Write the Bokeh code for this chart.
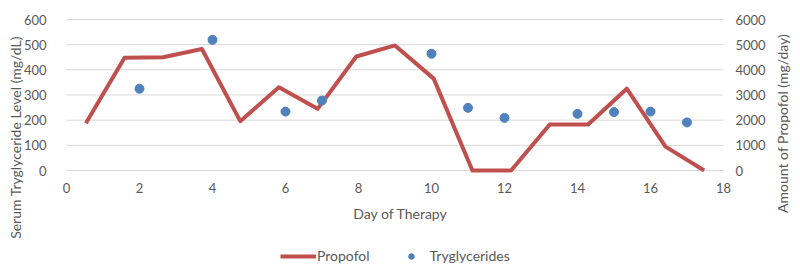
import math
from bokeh.plotting import figure
from bokeh.models import (Range1d, LinearAxis, FixedTicker, Legend, LegendItem, Label)
from bokeh.embed import file_html
from bokeh.resources import INLINE

# ---- data ----
propofol_day = [0.53, 1.59, 2.65, 3.71, 4.76, 5.82, 6.88, 7.94, 9.0,
                10.06, 11.12, 12.18, 13.24, 14.29, 15.35, 16.41, 17.47]
propofol_mg_day = [1880, 4480, 4500, 4830, 1960, 3310, 2450, 4530, 4970,
                   3650, 0, 0, 1830, 1830, 3250, 950, 0]
trig_day = [2, 4, 6, 7, 10, 11, 12, 14, 15, 16, 17]
trig_mg_dl = [325, 519, 234, 278, 464, 249, 209, 225, 232, 234, 191]
x_ticks = [0, 2, 4, 6, 8, 10, 12, 14, 16, 18]
left_ticks = [0, 100, 200, 300, 400, 500, 600]
right_ticks = [0, 1000, 2000, 3000, 4000, 5000, 6000]

TEXT = "#595959"
GRID = "#d9d9d9"
FONT = "Lato"
RED = "#c0504d"
BLUE = "#4f81bd"

# layout: the chart's plot area (x 0..18, y 0..600) spans px 66..723 and 19..170;
# the frame covers the whole canvas so that titles and legend can live in it
W, H = 800, 268
PL, PR, PT, PB = 66, 723, 19, 170
sx = (x_ticks[-1] - x_ticks[0]) / (PR - PL)
sy = (left_ticks[-1] - left_ticks[0]) / (PB - PT)
x_lo, x_hi = x_ticks[0] - PL * sx, x_ticks[-1] + (W - PR) * sx
y_lo, y_hi = -(H - PB) * sy, left_ticks[-1] + PT * sy

p = figure(width=W, height=H, output_backend="svg", toolbar_location=None,
           x_range=Range1d(x_lo, x_hi), y_range=Range1d(y_lo, y_hi),
           min_border=0, min_border_left=0, min_border_right=0,
           min_border_top=0, min_border_bottom=0)
p.outline_line_color = None
p.background_fill_color = "white"
p.border_fill_color = "white"
p.extra_y_ranges = {"prop": Range1d(y_lo * 10, y_hi * 10)}

def style_axis(ax, ticks):
    ax.ticker = FixedTicker(ticks=ticks)
    ax.axis_line_color = None
    ax.major_tick_line_color = None
    ax.minor_tick_line_color = None
    ax.major_label_text_color = TEXT
    ax.major_label_text_font = FONT
    ax.major_label_text_font_size = "13px"
    ax.axis_label_text_font = FONT
    ax.axis_label_text_font_size = "14px"
    ax.axis_label_text_font_style = "normal"
    ax.axis_label_text_color = TEXT

xax = p.xaxis[0]
style_axis(xax, x_ticks)
xax.fixed_location = 0
xax.major_label_standoff = 6
xax.axis_label = "Day of Therapy"
xax.axis_label_standoff = 9

yax = p.yaxis[0]
style_axis(yax, left_ticks)
yax.fixed_location = x_ticks[0]
yax.major_label_standoff = 14

right = LinearAxis(y_range_name="prop", fixed_location=x_ticks[-1])
style_axis(right, right_ticks)
right.major_label_standoff = 6
right.major_label_text_align = "left"
p.add_layout(right, "right")

p.xgrid.grid_line_color = None
p.ygrid.grid_line_color = None

# horizontal gridlines across the plot area only
p.segment(x0=x_ticks[0], x1=x_ticks[-1], y0=left_ticks, y1=left_ticks,
          line_color=GRID, line_width=1)

r_line = p.line(propofol_day, propofol_mg_day, y_range_name="prop",
                line_color=RED, line_width=4, line_join="round")
r_dot = p.scatter(trig_day, trig_mg_dl, size=9, fill_color=BLUE,
                  line_color=BLUE)

# axis titles (both read bottom-to-top, as in the reference)
p.add_layout(Label(x=15, y=H - 137, x_units="screen", y_units="screen",
                   text="Serum Tryglyceride Level (mg/dL)", angle=math.pi / 2,
                   text_align="center", text_baseline="middle",
                   text_font=FONT, text_font_size="14px", text_color=TEXT))
p.add_layout(Label(x=782, y=H - 123, x_units="screen", y_units="screen",
                   text="Amount of Propofol (mg/day)", angle=math.pi / 2,
                   text_align="center", text_baseline="middle",
                   text_font=FONT, text_font_size="14px", text_color=TEXT))

legend = Legend(items=[LegendItem(label="Propofol", renderers=[r_line]),
                       LegendItem(label="Tryglycerides", renderers=[r_dot])],
                location=(280, 4), orientation="horizontal",
                glyph_width=36, glyph_height=14, label_height=14,
                label_standoff=1, spacing=23, padding=0, margin=0,
                border_line_color=None, background_fill_alpha=0,
                label_text_font=FONT, label_text_font_size="14px",
                label_text_color=TEXT)
p.add_layout(legend, "center")

open("out.html", "w").write(file_html(p, INLINE))
